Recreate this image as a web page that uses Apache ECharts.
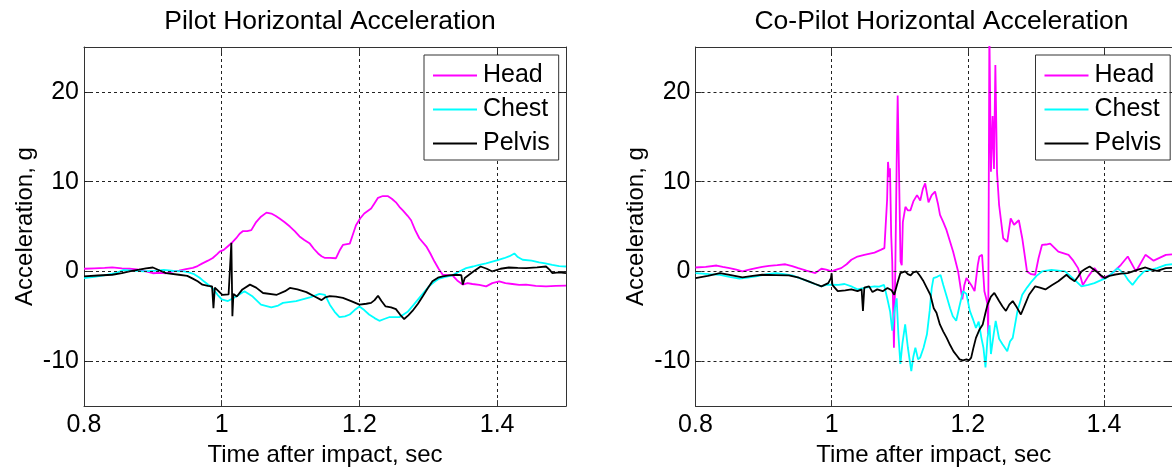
<!DOCTYPE html>
<html>
<head>
<meta charset="utf-8">
<script src="https://cdn.jsdelivr.net/npm/echarts@6/dist/echarts.min.js"></script>
<style>
html,body{margin:0;padding:0;background:#fff;overflow:hidden;}
#c{width:1172px;height:472px;}
</style>
</head>
<body>
<div id="c"></div>
<script>
// ---- data ----
var titles = ['Pilot Horizontal Acceleration', 'Co-Pilot Horizontal Acceleration'];
var seriesNames = ['Head', 'Chest', 'Pelvis'];
var xTicks = [0.8, 1, 1.2, 1.4];
var yTicks = [-10, 0, 10, 20];

var pilotHead = [[0.800,0.3],[0.815,0.35],[0.830,0.4],[0.841,0.45],[0.855,0.35],[0.866,0.3],[0.880,0.2],[0.890,0.0],[0.900,-0.2],[0.910,-0.15],[0.919,-0.2],[0.930,0.0],[0.938,0.1],[0.948,0.25],[0.958,0.4],[0.965,0.6],[0.972,0.9],[0.980,1.2],[0.987,1.5],[0.993,1.9],[0.997,2.2],[1.003,2.4],[1.009,2.8],[1.015,3.2],[1.021,3.7],[1.026,4.2],[1.031,4.5],[1.037,4.5],[1.043,4.6],[1.050,5.5],[1.057,6.1],[1.065,6.55],[1.072,6.45],[1.078,6.2],[1.084,5.9],[1.091,5.5],[1.099,5.0],[1.106,4.5],[1.113,3.9],[1.120,3.5],[1.128,3.1],[1.134,2.5],[1.140,2.0],[1.145,1.7],[1.150,1.5],[1.157,1.5],[1.166,1.47],[1.171,2.3],[1.176,2.95],[1.186,3.1],[1.190,4.0],[1.195,5.15],[1.201,5.9],[1.207,6.45],[1.217,7.0],[1.222,7.6],[1.227,8.2],[1.234,8.4],[1.241,8.4],[1.247,8.1],[1.253,7.7],[1.258,7.2],[1.263,6.8],[1.270,6.2],[1.275,5.7],[1.281,4.6],[1.287,3.7],[1.297,2.8],[1.303,2.0],[1.309,1.1],[1.315,0.3],[1.321,-0.37],[1.328,-0.4],[1.335,-0.44],[1.342,-1.0],[1.350,-1.47],[1.357,-1.3],[1.364,-1.4],[1.374,-1.5],[1.384,-1.66],[1.393,-1.3],[1.403,-1.1],[1.412,-1.3],[1.422,-1.4],[1.432,-1.5],[1.442,-1.47],[1.456,-1.6],[1.471,-1.66],[1.485,-1.6],[1.500,-1.58]];
var pilotChest = [[0.800,-0.74],[0.815,-0.6],[0.829,-0.44],[0.845,-0.2],[0.858,0.18],[0.870,0.1],[0.887,0.0],[0.905,0.1],[0.916,0.18],[0.930,0.05],[0.945,0.0],[0.952,-0.1],[0.960,-0.3],[0.968,-0.7],[0.974,-1.1],[0.981,-1.5],[0.988,-2.0],[0.994,-2.6],[1.000,-3.1],[1.009,-3.3],[1.021,-2.8],[1.033,-2.2],[1.045,-2.8],[1.057,-3.7],[1.072,-4.0],[1.082,-3.8],[1.089,-3.5],[1.108,-3.3],[1.128,-2.9],[1.142,-2.5],[1.150,-2.6],[1.157,-3.7],[1.164,-4.5],[1.171,-5.1],[1.179,-5.0],[1.186,-4.8],[1.193,-4.3],[1.200,-3.9],[1.207,-4.3],[1.214,-4.8],[1.222,-5.2],[1.229,-5.5],[1.236,-5.3],[1.243,-5.1],[1.258,-5.1],[1.270,-4.5],[1.279,-3.7],[1.287,-2.95],[1.294,-2.3],[1.301,-1.66],[1.308,-1.2],[1.316,-0.8],[1.325,-0.6],[1.335,-0.44],[1.345,0.0],[1.355,0.37],[1.365,0.55],[1.374,0.74],[1.384,0.9],[1.393,1.1],[1.402,1.3],[1.410,1.47],[1.418,1.7],[1.425,2.0],[1.430,1.6],[1.437,1.3],[1.450,1.2],[1.461,1.0],[1.470,0.9],[1.480,0.74],[1.490,0.6],[1.500,0.55]];
var pilotPelvis = [[0.800,-0.55],[0.820,-0.45],[0.841,-0.37],[0.855,-0.2],[0.866,0.0],[0.880,0.2],[0.890,0.35],[0.900,0.44],[0.910,0.1],[0.919,-0.18],[0.938,-0.37],[0.950,-0.5],[0.958,-0.8],[0.965,-1.1],[0.972,-1.47],[0.980,-1.6],[0.986,-1.66],[0.988,-4.1],[0.990,-1.8],[1.001,-2.6],[1.010,-2.55],[1.012,-2.5],[1.014,3.2],[1.0155,-5.0],[1.017,-2.5],[1.022,-2.8],[1.030,-2.0],[1.041,-1.47],[1.050,-1.8],[1.060,-2.4],[1.080,-2.6],[1.092,-2.2],[1.099,-1.84],[1.110,-2.0],[1.123,-2.3],[1.135,-2.8],[1.145,-3.2],[1.150,-2.9],[1.157,-2.76],[1.166,-2.8],[1.176,-2.95],[1.188,-3.3],[1.200,-3.7],[1.210,-3.6],[1.217,-3.5],[1.222,-3.2],[1.227,-2.7],[1.232,-3.3],[1.238,-3.9],[1.246,-4.0],[1.253,-4.2],[1.259,-4.8],[1.265,-5.3],[1.271,-4.9],[1.277,-4.4],[1.285,-3.6],[1.292,-2.76],[1.299,-1.9],[1.306,-1.1],[1.314,-0.7],[1.321,-0.55],[1.330,-0.45],[1.340,-0.37],[1.348,-0.4],[1.350,-1.47],[1.353,-0.74],[1.364,-0.1],[1.376,0.55],[1.385,0.3],[1.393,0.0],[1.405,0.3],[1.417,0.44],[1.430,0.4],[1.442,0.37],[1.458,0.45],[1.471,0.55],[1.476,0.2],[1.480,-0.18],[1.490,-0.1],[1.500,-0.18]];

var copilotHead = [[0.800,0.44],[0.815,0.5],[0.831,0.66],[0.840,0.5],[0.850,0.37],[0.860,0.2],[0.869,0.0],[0.879,0.2],[0.889,0.37],[0.898,0.5],[0.908,0.63],[0.920,0.7],[0.932,0.8],[0.942,0.6],[0.951,0.37],[0.963,0.1],[0.976,-0.18],[0.985,0.3],[0.992,0.2],[1.000,0.0],[1.007,0.2],[1.014,0.37],[1.022,0.8],[1.029,1.3],[1.038,1.66],[1.048,1.85],[1.063,2.1],[1.072,2.4],[1.0775,2.6],[1.080,2.5],[1.0815,8.0],[1.0828,12.2],[1.0845,10.5],[1.0857,11.5],[1.0875,4.0],[1.089,1.1],[1.0915,-8.5],[1.0935,0.0],[1.0955,12.0],[1.0970,19.6],[1.0990,11.0],[1.1012,1.1],[1.103,0.7],[1.1046,5.5],[1.1084,7.2],[1.112,6.8],[1.1157,6.8],[1.120,7.8],[1.1254,8.5],[1.1302,7.9],[1.134,9.2],[1.1374,9.8],[1.1423,7.7],[1.147,8.5],[1.1519,8.9],[1.1560,7.6],[1.1592,6.3],[1.1640,5.5],[1.1688,4.6],[1.1740,3.3],[1.1785,2.2],[1.1858,0.0],[1.1920,-3.1],[1.1950,-1.5],[1.1980,-0.74],[1.2050,-1.5],[1.2100,-2.2],[1.2147,0.74],[1.2170,1.66],[1.2210,1.85],[1.2244,-2.2],[1.2270,-3.0],[1.2290,-3.7],[1.2300,-7.0],[1.2317,27],[1.2340,11.1],[1.2365,17.3],[1.2385,11.4],[1.2405,23.0],[1.2430,11.0],[1.2460,7.4],[1.2520,3.7],[1.2580,3.3],[1.2630,5.9],[1.2680,5.2],[1.2750,5.7],[1.2800,3.7],[1.2870,0.0],[1.2930,-0.3],[1.2990,-0.37],[1.3040,1.5],[1.3090,2.95],[1.3150,3.0],[1.3210,3.1],[1.3330,2.2],[1.3480,1.85],[1.3550,1.2],[1.3620,0.37],[1.3690,-1.5],[1.3770,-0.55],[1.3860,0.37],[1.3980,-0.74],[1.4100,-0.37],[1.4250,0.74],[1.4350,1.66],[1.4470,0.0],[1.4610,1.85],[1.4730,1.2],[1.4910,1.85],[1.500,1.9]];
var copilotChest = [[0.800,-0.18],[0.820,-0.3],[0.836,-0.37],[0.850,-0.6],[0.8645,-0.8],[0.877,-0.7],[0.889,-0.55],[0.905,-0.3],[0.918,-0.18],[0.930,-0.3],[0.942,-0.44],[0.955,-0.8],[0.966,-1.1],[0.975,-1.4],[0.985,-1.66],[0.992,-1.5],[1.000,-1.47],[1.010,-1.5],[1.019,-1.4],[1.030,-1.7],[1.038,-2.0],[1.050,-1.8],[1.063,-1.66],[1.070,-1.7],[1.077,-1.5],[1.082,-3.1],[1.086,-4.5],[1.089,-6.6],[1.092,-4.5],[1.0955,-3.0],[1.098,-7.0],[1.101,-10.3],[1.104,-8.0],[1.108,-5.9],[1.112,-8.5],[1.117,-11.1],[1.120,-9.5],[1.123,-8.5],[1.127,-9.8],[1.130,-9.6],[1.135,-8.5],[1.140,-7.0],[1.144,-4.4],[1.147,-1.85],[1.1496,-0.74],[1.155,-0.6],[1.160,-0.4],[1.164,-1.5],[1.169,-2.8],[1.174,-4.1],[1.178,-5.0],[1.183,-5.5],[1.188,-3.8],[1.193,-2.2],[1.198,-2.5],[1.203,-4.4],[1.208,-5.4],[1.212,-6.3],[1.216,-5.6],[1.220,-7.4],[1.223,-8.5],[1.226,-10.7],[1.229,-7.4],[1.232,-6.0],[1.234,-9.2],[1.238,-7.0],[1.241,-5.5],[1.246,-7.5],[1.251,-8.1],[1.258,-8.9],[1.262,-7.8],[1.266,-7.4],[1.273,-4.4],[1.280,-2.6],[1.287,-1.8],[1.294,-1.1],[1.301,-0.5],[1.309,0.0],[1.316,0.1],[1.323,0.18],[1.333,0.1],[1.343,0.0],[1.355,-0.8],[1.367,-1.66],[1.377,-1.5],[1.386,-1.3],[1.395,-1.0],[1.403,-0.74],[1.412,-0.2],[1.420,0.37],[1.430,-0.3],[1.436,-1.0],[1.442,-1.5],[1.450,-0.7],[1.459,0.0],[1.470,0.2],[1.478,0.37],[1.491,0.74],[1.500,0.8]];
var copilotPelvis = [[0.800,-0.74],[0.818,-0.5],[0.836,-0.18],[0.852,-0.4],[0.869,-0.66],[0.884,-0.5],[0.898,-0.37],[0.918,-0.4],[0.937,-0.44],[0.952,-0.7],[0.966,-1.1],[0.976,-1.4],[0.985,-1.66],[0.995,-1.3],[0.999,-0.74],[1.000,-0.2],[1.001,-1.5],[1.009,-2.2],[1.020,-2.1],[1.029,-2.0],[1.038,-2.2],[1.044,-2.0],[1.046,-4.4],[1.048,-1.8],[1.055,-1.66],[1.060,-2.3],[1.067,-2.0],[1.075,-2.2],[1.082,-1.85],[1.088,-2.1],[1.092,-2.6],[1.097,-1.2],[1.101,-0.18],[1.108,0.0],[1.112,-0.3],[1.116,-0.44],[1.120,-0.1],[1.125,0.0],[1.130,-0.5],[1.135,-1.1],[1.140,-1.85],[1.145,-2.6],[1.150,-4.1],[1.154,-4.6],[1.159,-5.9],[1.164,-6.7],[1.169,-7.4],[1.174,-8.2],[1.179,-8.9],[1.184,-9.4],[1.188,-9.8],[1.193,-9.9],[1.198,-9.8],[1.202,-9.9],[1.205,-9.6],[1.208,-8.6],[1.212,-7.4],[1.217,-6.5],[1.222,-5.9],[1.226,-4.6],[1.229,-3.7],[1.234,-2.8],[1.239,-2.4],[1.243,-2.9],[1.246,-3.3],[1.251,-3.9],[1.256,-4.4],[1.261,-3.7],[1.266,-3.3],[1.272,-4.0],[1.278,-4.8],[1.284,-3.7],[1.290,-2.6],[1.299,-1.66],[1.306,-1.8],[1.314,-2.0],[1.324,-1.5],[1.333,-1.1],[1.345,-0.37],[1.351,-0.8],[1.357,-1.1],[1.362,-0.6],[1.367,0.0],[1.373,0.3],[1.379,0.55],[1.389,0.0],[1.395,-0.4],[1.401,-0.74],[1.408,-0.5],[1.415,-0.37],[1.425,-0.25],[1.435,-0.18],[1.449,0.18],[1.461,0.44],[1.470,0.2],[1.478,0.07],[1.491,0.37],[1.500,0.4]];

var colors = ['#ff00ff', '#00ffff', '#000000'];
var FONT = "'Liberation Sans', Arial, sans-serif";

// ---- layout ----
var grids = [
  {left: 84, top: 47, width: 482, height: 362},
  {left: 695.5, top: 47, width: 483, height: 362}
];
var allData = [[pilotHead, pilotChest, pilotPelvis], [copilotHead, copilotChest, copilotPelvis]];

function fmtX(v){ var r = Math.round(v*10)/10; return xTicks.indexOf(r) >= 0 ? String(r) : ''; }
function fmtY(v){ var r = Math.round(v); return yTicks.indexOf(r) >= 0 ? String(r) : ''; }

var gridLineStyle = {color: '#222', width: 1, type: [3, 3]};
var xAxes = [], yAxes = [], series = [], titleArr = [], legends = [];
for (var g = 0; g < 2; g++) {
  xAxes.push({
    type: 'value', gridIndex: g, min: 0.8, max: 1.5, interval: 0.2, position: 'bottom',
    name: 'Time after impact, sec', nameLocation: 'middle', nameGap: 33,
    nameTextStyle: {fontSize: 24, color: '#000', fontFamily: FONT},
    axisLine: {show: true, onZero: false, lineStyle: {color: '#333', width: 1}},
    axisTick: {show: true, inside: true, length: 6, lineStyle: {color: '#333'}},
    axisLabel: {show: true, fontSize: 25, color: '#000', fontFamily: FONT, margin: 7, formatter: fmtX, showMaxLabel: false},
    splitLine: {show: true, lineStyle: gridLineStyle}
  });
  xAxes.push({
    type: 'value', gridIndex: g, min: 0.8, max: 1.5, interval: 0.2, position: 'top',
    axisLine: {show: true, onZero: false, lineStyle: {color: '#333', width: 1}},
    axisTick: {show: true, inside: true, length: 6, lineStyle: {color: '#333'}},
    axisLabel: {show: false}, splitLine: {show: false}
  });
  yAxes.push({
    type: 'value', gridIndex: g, min: -15, max: 25, position: 'left',
    name: 'Acceleration, g', nameLocation: 'middle', nameGap: 47, nameRotate: 90,
    nameTextStyle: {fontSize: 24, color: '#000', fontFamily: FONT},
    axisLine: {show: true, onZero: false, lineStyle: {color: '#333', width: 1}},
    axisTick: {show: true, inside: true, length: 6, lineStyle: {color: '#333'}, customValues: yTicks},
    axisLabel: {show: true, fontSize: 25, color: '#000', fontFamily: FONT, margin: 5, formatter: fmtY, customValues: yTicks},
    splitLine: {show: false}
  });
  yAxes.push({
    type: 'value', gridIndex: g, min: -15, max: 25, position: 'right',
    axisLine: {show: true, onZero: false, lineStyle: {color: '#333', width: 1}},
    axisTick: {show: true, inside: true, length: 6, lineStyle: {color: '#333'}, customValues: yTicks},
    axisLabel: {show: false}, splitLine: {show: false}
  });
  // horizontal grid lines at the y tick values
  series.push({
    type: 'line', name: '_grid', xAxisIndex: g*2, yAxisIndex: g*2, data: [],
    silent: true, z: 1, animation: false,
    markLine: {
      silent: true, symbol: 'none', animation: false,
      label: {show: false},
      lineStyle: gridLineStyle,
      data: yTicks.map(function(v){ return {yAxis: v}; })
    }
  });
  for (var s = 0; s < 3; s++) {
    series.push({
      type: 'line', name: seriesNames[s], xAxisIndex: g*2, yAxisIndex: g*2,
      data: allData[g][s], showSymbol: false, symbol: 'none', animation: false,
      lineStyle: {color: colors[s], width: 1.8}, itemStyle: {color: colors[s]},
      clip: true, z: 2 + s
    });
  }
  titleArr.push({
    text: titles[g], left: grids[g].left + 241, top: 3, textAlign: 'center',
    textStyle: {fontSize: 26.5, fontWeight: 'normal', color: '#000', fontFamily: FONT}
  });
  legends.push({
    data: seriesNames, orient: 'vertical',
    left: grids[g].left + 340, top: 55,
    backgroundColor: '#fff', borderColor: '#333', borderWidth: 1, borderRadius: 0,
    padding: [7, 9, 3, 9], itemGap: 7, itemWidth: 44, itemHeight: 2, icon: 'rect',
    selectedMode: false,
    textStyle: {fontSize: 25, color: '#000', fontFamily: FONT, lineHeight: 27, padding: [0, 0, 0, 1]}
  });
}

var chart = echarts.init(document.getElementById('c'), null, {renderer: 'canvas'});
chart.setOption({
  animation: false,
  backgroundColor: '#fff',
  title: titleArr,
  legend: legends,
  grid: grids,
  xAxis: xAxes,
  yAxis: yAxes,
  series: series
});
</script>
</body>
</html>
